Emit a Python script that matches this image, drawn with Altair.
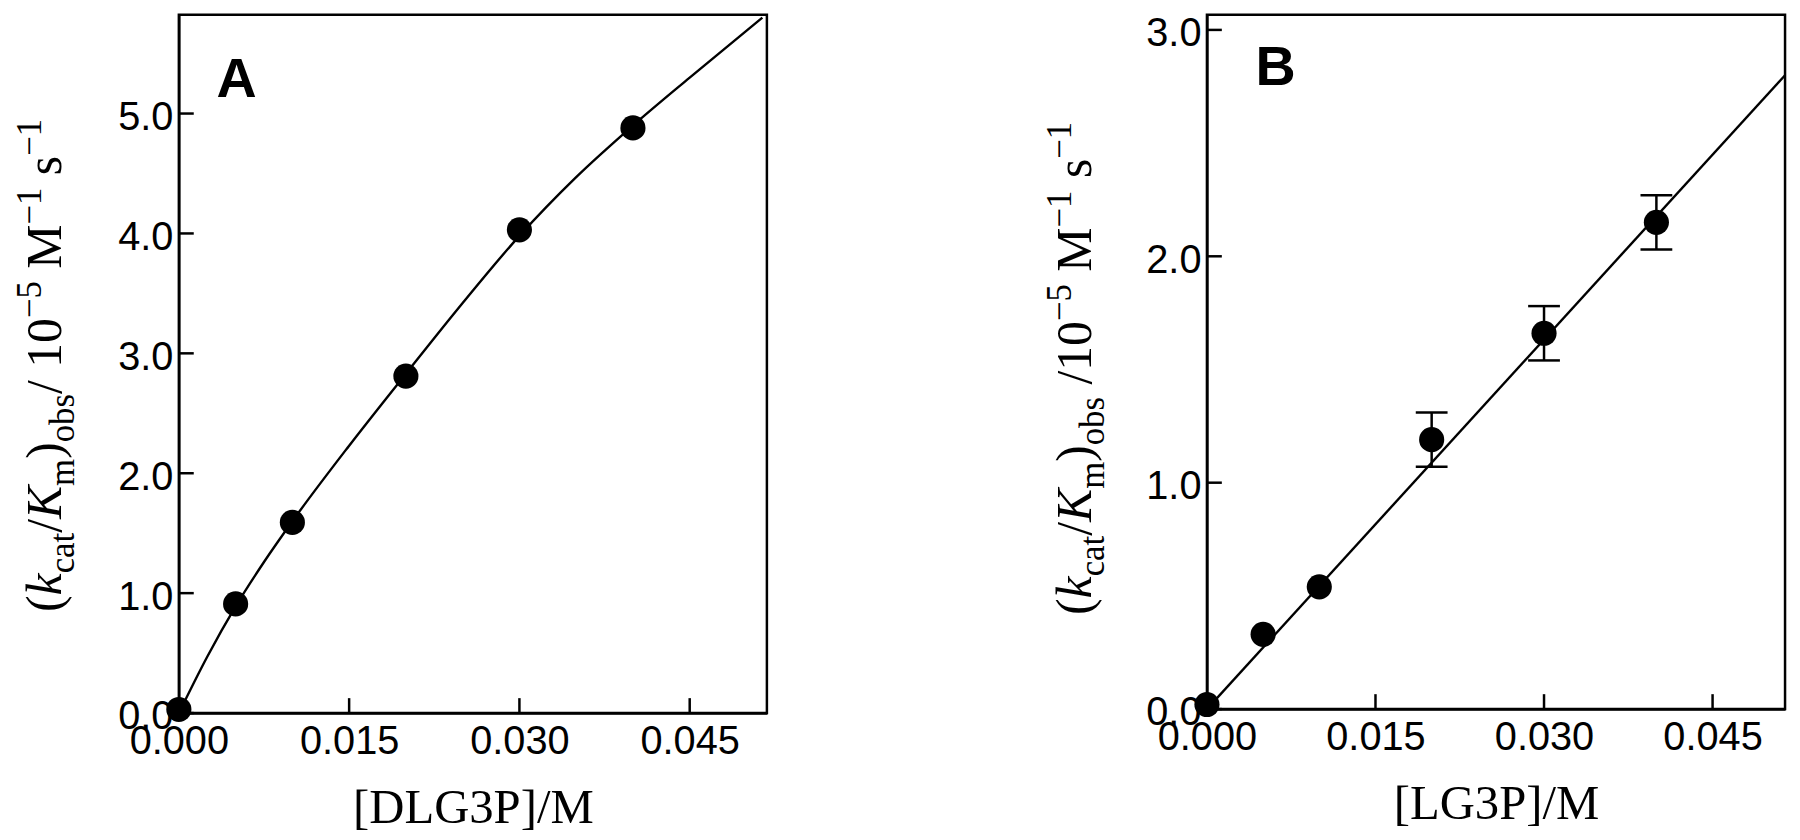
import altair as alt
import pandas as pd

# ---------------- data ----------------
x_ticks = [0.0, 0.015, 0.030, 0.045]

# Panel A : DLG3P
a_conc = [0.0, 0.005, 0.010, 0.020, 0.030, 0.040]
a_rate = [0.03, 0.91, 1.59, 2.81, 4.03, 4.88]
a_fit_conc = [0.0, 0.0025, 0.005, 0.0075, 0.010, 0.015, 0.020, 0.025, 0.030, 0.035, 0.040, 0.045, 0.0514]
a_fit_rate = [0.0, 0.47, 0.89, 1.26, 1.60, 2.23, 2.83, 3.42, 3.98, 4.47, 4.90, 5.30, 5.80]
a_y_ticks = [0.0, 1.0, 2.0, 3.0, 4.0, 5.0]

# Panel B : LG3P
b_conc = [0.0, 0.005, 0.010, 0.020, 0.030, 0.040]
b_rate = [0.02, 0.33, 0.54, 1.19, 1.66, 2.15]
b_err_conc = [0.020, 0.030, 0.040]
b_err_lo = [1.07, 1.54, 2.03]
b_err_hi = [1.31, 1.78, 2.27]
b_fit_conc = [0.0, 0.05145]
b_fit_rate = [0.0, 2.80]
b_y_ticks = [0.0, 1.0, 2.0, 3.0]

# ---------------- styling helpers ----------------
SERIF = "Liberation Serif"
SANS = "Liberation Sans"
TITLE_FS = 50
SMALL_FS = 35
TICK_LEN = 15

# Times advance widths (1/1000 em) for composing the rich y-axis title
W = {'(': 333, ')': 333, '/': 278, '0': 500, '1': 500, '5': 500, 'M': 889, 's': 389,
     'c': 444, 'a': 444, 't': 278, 'm': 778, 'o': 500, 'b': 500, '\u2212': 564,
     'k': 444, 'K': 667}


def title_rows(pieces, x0, ymid):
    rows, adv = [], 0.0
    for text, kind, gap in pieces:
        size = SMALL_FS if kind in ("sub", "sup") else TITLE_FS
        shift = {"sub": 0.26 * TITLE_FS, "sup": -0.40 * TITLE_FS}.get(kind, 0.0)
        rows.append(dict(t=text, fs=size, it=(kind == "it"), px=x0 + shift, adv=adv))
        adv += sum(W[c] for c in text) / 1000.0 * size + gap * 0.25 * TITLE_FS
    for r in rows:
        r["py"] = ymid + adv / 2.0 - r["adv"]
    return pd.DataFrame(rows)


pieces_a = [("(", "n", 0), ("k", "it", 0), ("cat", "sub", 0), ("/", "n", 0), ("K", "it", 0),
            ("m", "sub", 0), (")", "n", 0), ("obs", "sub", 0), ("/", "n", 1), ("10", "n", 0),
            ("\u22125", "sup", 1), ("M", "n", 0), ("\u22121", "sup", 1), ("s", "n", 0),
            ("\u22121", "sup", 0)]
pieces_b = [("(", "n", 0), ("k", "it", 0), ("cat", "sub", 0), ("/", "n", 0), ("K", "it", 0),
            ("m", "sub", 0), (")", "n", 0), ("obs", "sub", 1), ("/10", "n", 0),
            ("\u22125", "sup", 1), ("M", "n", 0), ("\u22121", "sup", 1), ("s", "n", 0),
            ("\u22121", "sup", 0)]


def panel(conc, rate, fit_c, fit_r, xmax, ymax, yticks, w, h, xtitle, letter, letter_xy,
          pieces, title_x0, title_mid, err=None):
    xs = alt.Scale(domain=[0, xmax], nice=False, zero=False)
    ys = alt.Scale(domain=[0, ymax], nice=False, zero=False)
    xaxis = alt.Axis(values=x_ticks, format=".3f", title=xtitle, grid=False, ticks=False,
                     labelFlush=False, labelOverlap=False, labelPadding=9, titlePadding=22)
    yaxis = alt.Axis(values=yticks, format=".1f", title=None, grid=False, ticks=False,
                     labelOverlap=False, labelPadding=6, labelBaseline="top",
                     labelOffset=-16)

    X = lambda f: alt.X(f, scale=xs, axis=xaxis)
    Y = lambda f: alt.Y(f, scale=ys, axis=yaxis)

    fit = alt.Chart(pd.DataFrame({"c": fit_c, "r": fit_r})).mark_line(
        color="black", strokeWidth=2.4, interpolate="monotone").encode(
        x=X("c:Q"), y=Y("r:Q"), order="c:Q")
    pts = alt.Chart(pd.DataFrame({"c": conc, "r": rate})).mark_circle(
        color="black", opacity=1, size=640).encode(x=X("c:Q"), y=Y("r:Q"))

    # inward tick marks (positions come from the tick lists through the scales)
    xt = alt.Chart(pd.DataFrame({"c": x_ticks})).mark_rule(
        color="black", strokeWidth=2.5).encode(
        x=X("c:Q"), y=alt.value(h), y2=alt.value(h - TICK_LEN))
    yt = alt.Chart(pd.DataFrame({"r": yticks})).mark_rule(
        color="black", strokeWidth=2.5).encode(
        y=Y("r:Q"), x=alt.value(0), x2=alt.value(TICK_LEN))

    layers = [fit, xt, yt]
    if err is not None:
        edf = pd.DataFrame({"c": err[0], "lo": err[1], "hi": err[2]})
        bars = alt.Chart(edf).mark_rule(color="black", strokeWidth=2.5).encode(
            x=X("c:Q"), y=Y("lo:Q"), y2="hi:Q")
        cap_lo = alt.Chart(edf).mark_tick(color="black", orient="horizontal", size=32,
                                          thickness=2.5, opacity=1).encode(
            x=X("c:Q"), y=Y("lo:Q"))
        cap_hi = alt.Chart(edf).mark_tick(color="black", orient="horizontal", size=32,
                                          thickness=2.5, opacity=1).encode(
            x=X("c:Q"), y=Y("hi:Q"))
        layers += [bars, cap_lo, cap_hi]
    layers.append(pts)

    lab = alt.Chart(pd.DataFrame({"t": [letter]})).mark_text(
        font=SANS, fontWeight="bold", fontSize=56, align="left", baseline="alphabetic",
        color="black").encode(x=alt.value(letter_xy[0]), y=alt.value(letter_xy[1]), text="t:N")
    layers.append(lab)

    tdf = title_rows(pieces, title_x0, title_mid)
    for italic in (False, True):
        sub = tdf[tdf["it"] == italic]
        layers.append(alt.Chart(sub).mark_text(
            font=SERIF, fontStyle="italic" if italic else "normal", angle=270,
            align="left", baseline="alphabetic", color="black").encode(
            x=alt.X("px:Q", scale=None),
            y=alt.Y("py:Q", scale=None),
            size=alt.Size("fs:Q", scale=None, legend=None),
            text="t:N"))

    return alt.layer(*layers).properties(width=w, height=h)


chart_a = panel(a_conc, a_rate, a_fit_conc, a_fit_rate, 0.0518, 5.824, a_y_ticks, 592, 703,
                "[DLG3P]/M", "A", (38, 83), pieces_a, -119, 353)
chart_b = panel(b_conc, b_rate, b_fit_conc, b_fit_rate, 0.05145, 3.067, b_y_ticks, 582, 699,
                "[LG3P]/M", "B", (49, 71), pieces_b, -117, 356,
                err=(b_err_conc, b_err_lo, b_err_hi))

chart = alt.concat(chart_a, chart_b, columns=2, spacing=274, align="none").properties(
    padding={"left": 3, "top": 0, "right": 0, "bottom": 0}
).configure_view(stroke="black", strokeWidth=2.5).configure_axis(
    domainColor="black", domainWidth=2.5,
    labelFont=SANS, labelFontSize=40, labelColor="black",
    titleFont=SERIF, titleFontSize=49, titleFontWeight="normal", titleColor="black"
)

chart.save("out.html", embed_options={"renderer": "svg", "actions": False})
